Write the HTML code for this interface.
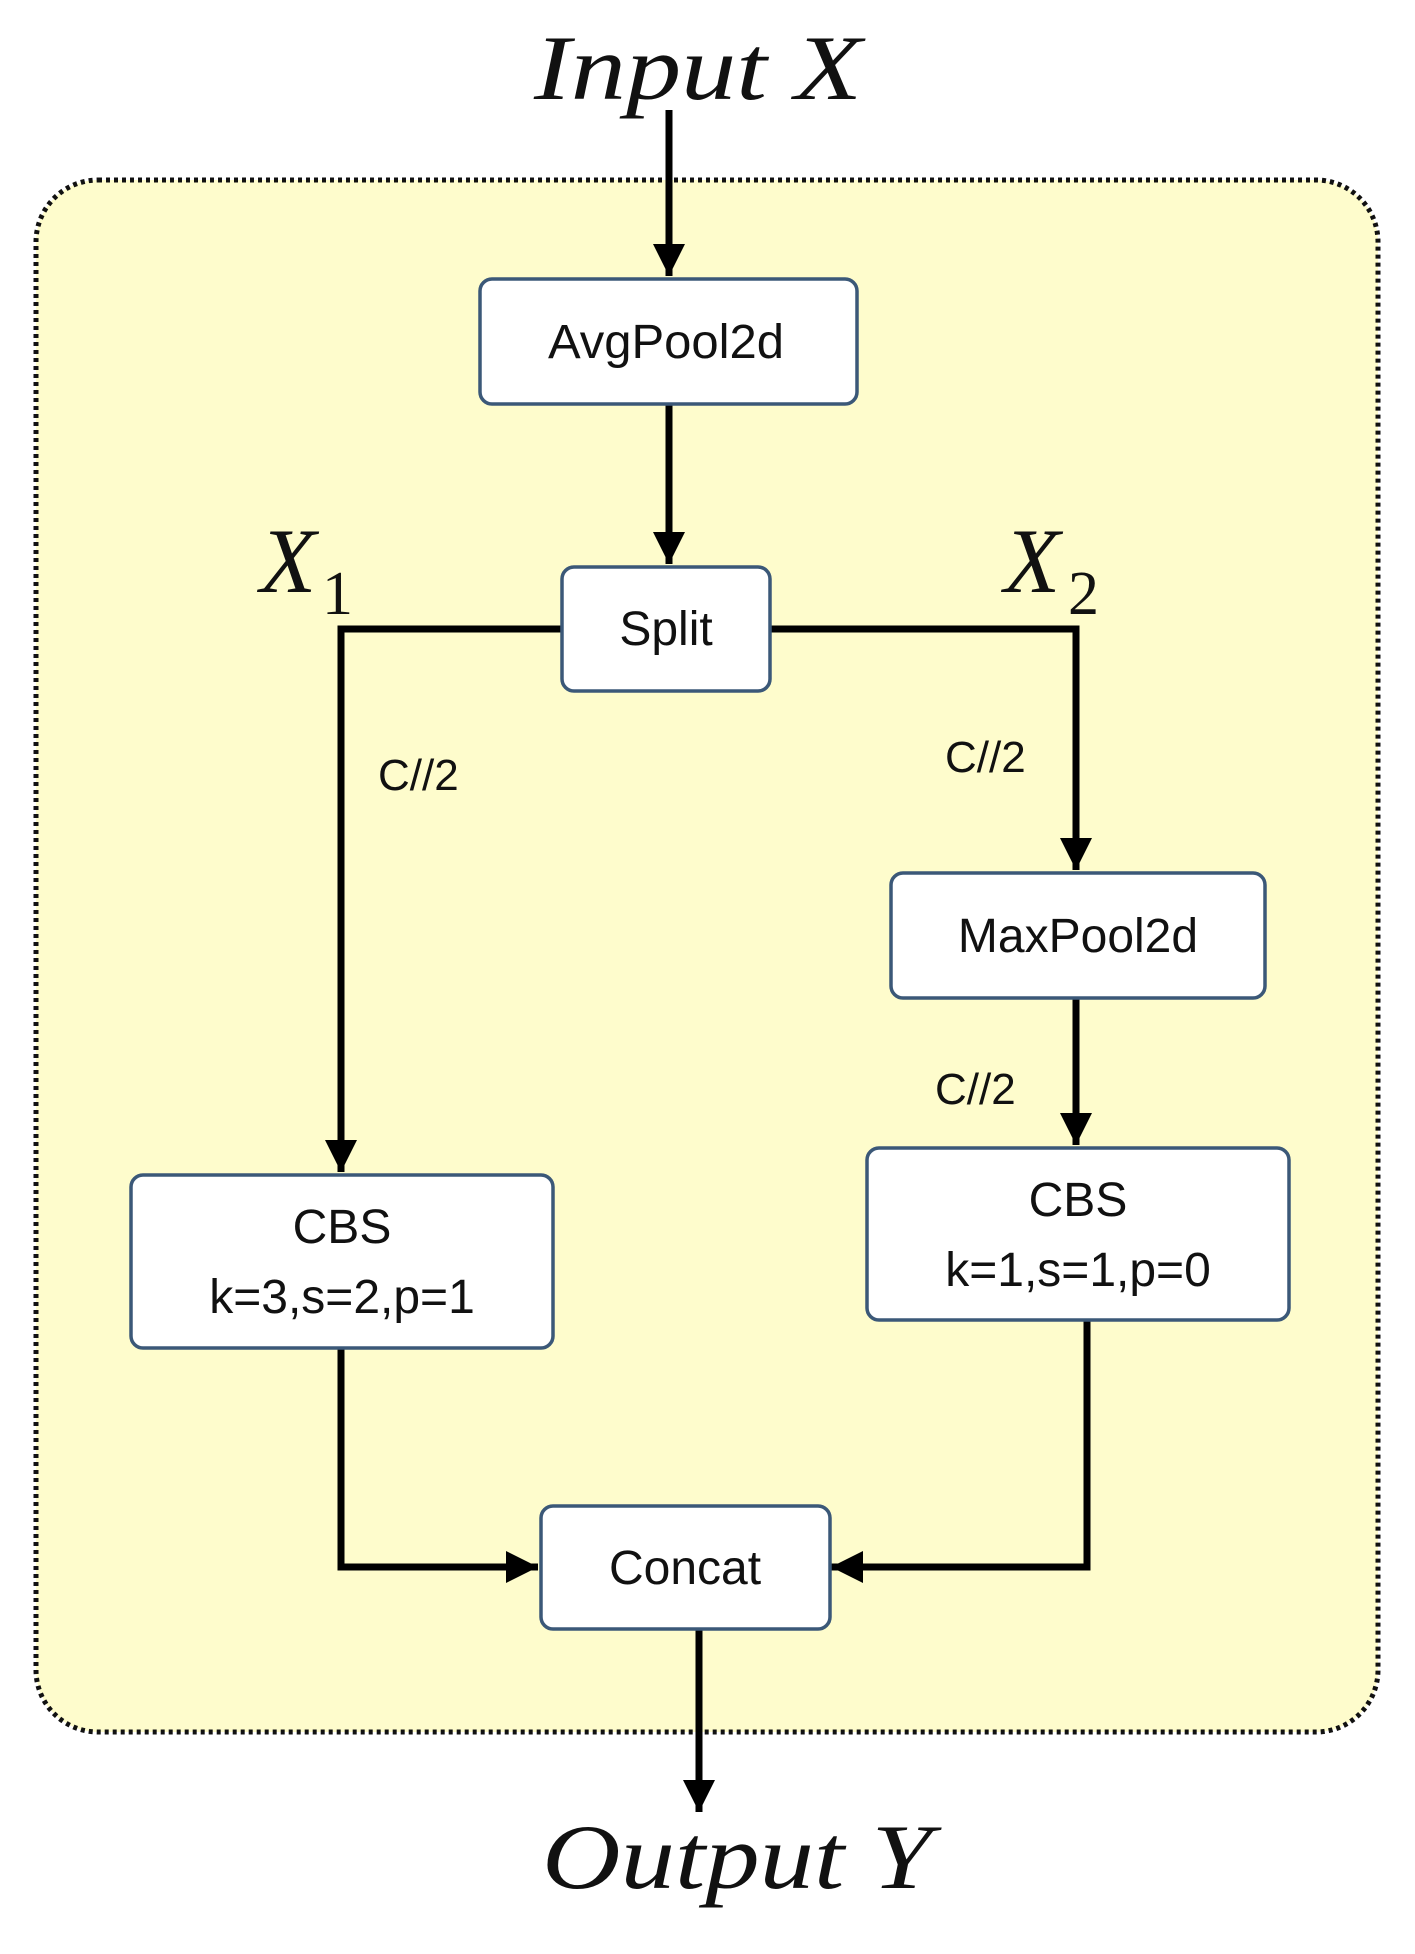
<!DOCTYPE html>
<html><head><meta charset="utf-8"><style>html,body{margin:0;padding:0;background:#fff}svg{display:block}</style></head>
<body>
<svg width="1415" height="1954" viewBox="0 0 1415 1954" xmlns="http://www.w3.org/2000/svg">
<defs>
<marker id="a" markerUnits="userSpaceOnUse" markerWidth="34" markerHeight="34" refX="32" refY="16" orient="auto">
<path d="M0,0 L32,16 L0,32 Z" fill="#000"/>
</marker>
</defs>
<rect x="36" y="180" width="1342" height="1552" rx="62" fill="#fefccc" stroke="#111" stroke-width="5" stroke-dasharray="4,4"/>
<g fill="none" stroke="#000" stroke-width="7">
<line x1="669" y1="110" x2="669" y2="276" marker-end="url(#a)"/>
<line x1="669" y1="405" x2="669" y2="564" marker-end="url(#a)"/>
<polyline points="561,629 341,629 341,1172" marker-end="url(#a)"/>
<polyline points="769,629 1076,629 1076,870" marker-end="url(#a)"/>
<line x1="1076" y1="998" x2="1076" y2="1145" marker-end="url(#a)"/>
<polyline points="341,1348 341,1567 538,1567" marker-end="url(#a)"/>
<polyline points="1087,1320 1087,1567 831,1567" marker-end="url(#a)"/>
<line x1="699" y1="1629" x2="699" y2="1812" marker-end="url(#a)"/>
</g>
<g fill="#fff" stroke="#3b5878" stroke-width="3.5">
<rect x="480" y="279" width="377" height="125" rx="12"/>
<rect x="562" y="567" width="208" height="124" rx="12"/>
<rect x="891" y="873" width="374" height="125" rx="12"/>
<rect x="131" y="1175" width="422" height="173" rx="12"/>
<rect x="867" y="1148" width="422" height="172" rx="12"/>
<rect x="541" y="1506" width="289" height="123" rx="12"/>
</g>
<g font-family="'Liberation Sans', sans-serif" font-size="48" text-anchor="middle" fill="#111">
<text x="666" y="358" textLength="236" lengthAdjust="spacingAndGlyphs">AvgPool2d</text>
<text x="666" y="645">Split</text>
<text x="1078" y="952">MaxPool2d</text>
<text x="342" y="1243">CBS</text>
<text x="342" y="1313">k=3,s=2,p=1</text>
<text x="1078" y="1216">CBS</text>
<text x="1078" y="1286">k=1,s=1,p=0</text>
<text x="685" y="1584">Concat</text>
</g>
<g font-family="'Liberation Sans', sans-serif" font-size="44" fill="#111">
<text x="378" y="790">C//2</text>
<text x="945" y="772">C//2</text>
<text x="935" y="1104">C//2</text>
</g>
<g font-family="'Liberation Serif', serif" font-style="italic" fill="#111">
<text x="534" y="99" font-size="92" textLength="328" lengthAdjust="spacingAndGlyphs">Input X</text>
<text x="542" y="1888" font-size="92" textLength="390" lengthAdjust="spacingAndGlyphs">Output Y</text>
<text x="260" y="592" font-size="92">X</text>
<text x="322" y="614" font-size="62" font-style="normal">1</text>
<text x="1004" y="592" font-size="92">X</text>
<text x="1068" y="614" font-size="62" font-style="normal">2</text>
</g>
</svg>
</body></html>
